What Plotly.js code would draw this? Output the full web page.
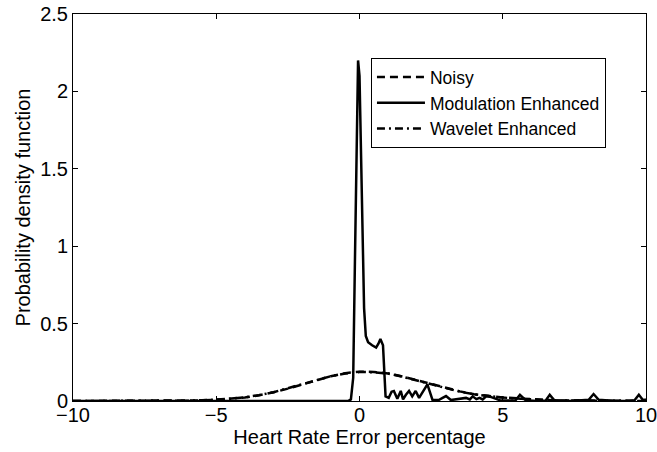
<!DOCTYPE html>
<html>
<head>
<meta charset="utf-8">
<script src="https://cdn.plot.ly/plotly-3.0.1.min.js"></script>
<style>
html,body{margin:0;padding:0;background:#fff;}
#chart{width:657px;height:452px;}
</style>
</head>
<body>
<div id="chart"></div>
<script>
// Gaussian-like curves (x in %)
const xSmooth = [-10,-9,-8,-7,-6.5,-6,-5.5,-5,-4.5,-4,-3.5,-3,-2.5,-2,-1.5,-1,-0.5,0,0.5,1,1.5,2,2.5,3,3.5,4,4.5,5,5.5,6,6.5,7,7.5,8,9,10];
const noisy   = [0,0,0,0.001,0.001,0.002,0.004,0.008,0.014,0.023,0.037,0.056,0.080,0.107,0.135,0.160,0.180,0.189,0.188,0.178,0.158,0.133,0.108,0.085,0.062,0.044,0.032,0.023,0.017,0.011,0.007,0.004,0.003,0.002,0.001,0];
const wavelet = [0,0,0,0.001,0.001,0.002,0.005,0.009,0.015,0.024,0.038,0.057,0.082,0.109,0.136,0.160,0.178,0.187,0.186,0.177,0.157,0.132,0.106,0.083,0.060,0.043,0.031,0.022,0.016,0.010,0.006,0.004,0.003,0.002,0.001,0];

// Modulation enhanced (sharp peak)
const xMod = [-10,-0.4,-0.3,-0.22,-0.16,-0.1,-0.05,0,0.05,0.1,0.16,0.22,0.3,0.44,0.58,0.66,0.73,0.82,0.91,1.02,1.12,1.2,1.32,1.44,1.52,1.62,1.73,1.84,1.96,2.08,2.2,2.37,2.55,2.78,2.9,3.02,3.19,3.4,3.55,3.72,3.85,3.95,4.08,4.19,4.3,4.42,4.6,4.77,4.9,5.2,5.45,5.6,5.8,6.2,6.5,6.64,6.8,7.4,8.0,8.17,8.35,8.9,9.4,9.6,9.75,9.9,10];
const modulation = [0,0,0.01,0.15,0.9,1.7,2.2,2.1,1.6,1.0,0.6,0.42,0.38,0.36,0.345,0.37,0.40,0.36,0.03,0.02,0.06,0.065,0.015,0.065,0.01,0.04,0.065,0.03,0.065,0.02,0.06,0.108,0.006,0.008,0.02,0.032,0.006,0.01,0.015,0.02,0.01,0.03,0.012,0.02,0.01,0.03,0.025,0.012,0.005,0.003,0.005,0.04,0.005,0,0.004,0.04,0.004,0,0.008,0.045,0.008,0,0,0.005,0.04,0.005,0.01];

const traces = [
  {x:xSmooth, y:noisy, name:'Noisy', type:'scatter', mode:'lines',
   line:{color:'#000', width:2.5, dash:'8px,5px'}},
  {x:xMod, y:modulation, name:'Modulation Enhanced', type:'scatter', mode:'lines',
   line:{color:'#000', width:2.5}},
  {x:xSmooth, y:wavelet, name:'Wavelet Enhanced', type:'scatter', mode:'lines',
   line:{color:'#000', width:2.5, dash:'8px,4px,2px,4px'}}
];

const FONT = 'Liberation Sans, Arial, Helvetica, sans-serif';
const axisCommon = {
  showgrid:false, zeroline:false, showline:true, linecolor:'#000', linewidth:1,
  mirror:'ticks', ticks:'inside', ticklen:5, tickcolor:'#000', tickwidth:1,
  ticklabeloverflow:'allow',
  tickfont:{family:FONT, size:20, color:'#000'}
};

const layout = {
  width:657, height:452,
  margin:{l:73, r:11, t:14, b:51},
  paper_bgcolor:'#fff', plot_bgcolor:'#fff',
  font:{family:FONT, color:'#000'},
  xaxis:Object.assign({}, axisCommon, {range:[-10,10], tick0:-10, dtick:5,
    ticklabelstandoff:-4,
    title:{text:'Heart Rate Error percentage', font:{family:FONT, size:20}, standoff:0}}),
  yaxis:Object.assign({}, axisCommon, {range:[0,2.5], tick0:0, dtick:0.5,
    title:{text:'Probability density function', font:{family:FONT, size:20}, standoff:4}}),
  showlegend:true,
  legend:{x:0.52, y:0.886, xanchor:'left', yanchor:'top',
    bgcolor:'#fff', bordercolor:'#000', borderwidth:1,
    font:{family:FONT, size:17.5, color:'#000'},
    tracegroupgap:0, itemwidth:48}
};

Plotly.newPlot('chart', traces, layout, {displayModeBar:false, staticPlot:true});
</script>
</body>
</html>
